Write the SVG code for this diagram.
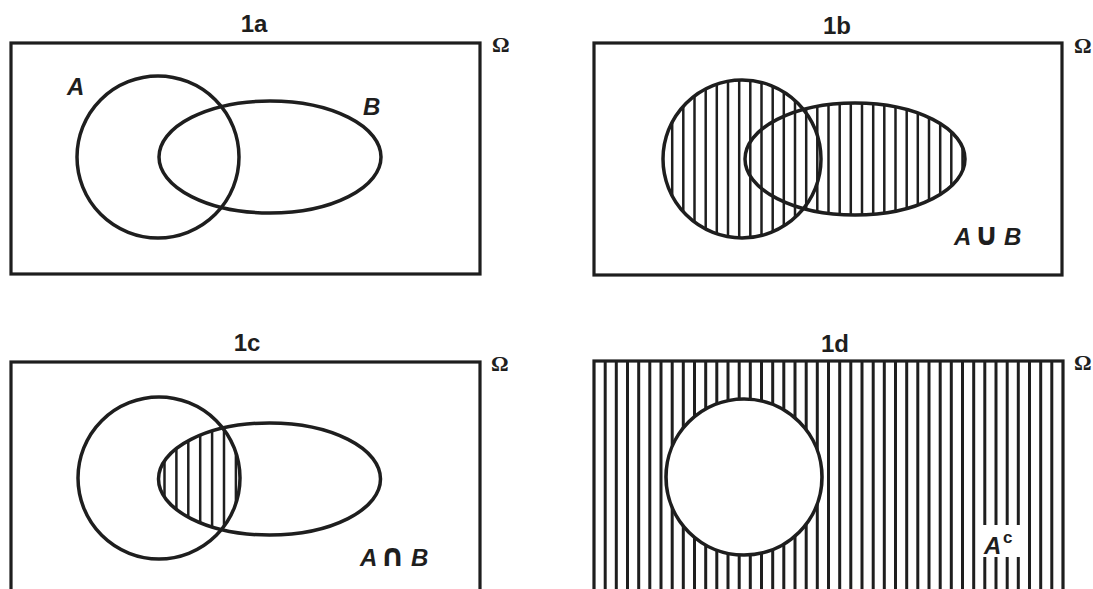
<svg xmlns="http://www.w3.org/2000/svg" width="1093" height="589" viewBox="0 0 1093 589">
<style>
.frame{fill:none;stroke:#1e1e1e;stroke-width:3.2}
.set{fill:none;stroke:#1e1e1e;stroke-width:3.5}
.hole{fill:#fff;stroke:#1e1e1e;stroke-width:3.6}
.hatch{fill:none;stroke:#1e1e1e;stroke-width:2.5}
.hatchd{fill:none;stroke:#1e1e1e;stroke-width:3}
.title{font-family:"Liberation Sans","DejaVu Sans",sans-serif;font-weight:bold;font-size:24px;fill:#1e1e1e;text-anchor:middle}
.omega{font-family:"Liberation Serif","DejaVu Serif",serif;font-weight:bold;font-size:22px;fill:#1e1e1e}
.lbl{font-family:"Liberation Sans","DejaVu Sans",sans-serif;font-weight:bold;font-style:italic;font-size:24px;fill:#1e1e1e}
.op{font-family:"DejaVu Sans","Liberation Sans",sans-serif;font-weight:bold;font-style:normal;font-size:31px}
.sup{font-style:normal;font-size:17px}
</style>
<defs>
<clipPath id="clipUnion">
<circle cx="742" cy="159" r="79"/>
<ellipse cx="855" cy="159" rx="110" ry="56"/>
</clipPath>
<clipPath id="clipA1c"><circle cx="159" cy="478" r="81"/></clipPath>
<clipPath id="clipB1c"><ellipse cx="269.5" cy="479" rx="111" ry="56"/></clipPath>
</defs>

<g id="panel-1a">
<text class="title" x="254" y="32">1a</text>
<rect class="frame" x="11" y="43" width="469" height="231"/>
<text class="omega" x="492" y="52">Ω</text>
<circle class="set" cx="158" cy="157" r="81"/>
<ellipse class="set" cx="270" cy="157" rx="111" ry="56"/>
<text class="lbl" x="67" y="95">A</text>
<text class="lbl" x="363" y="115">B</text>
</g>

<g id="panel-1b">
<text class="title" x="837" y="34">1b</text>
<rect class="frame" x="594" y="43" width="468" height="232"/>
<text class="omega" x="1074" y="53">Ω</text>
<path class="hatch" clip-path="url(#clipUnion)" d="M661 75V245M672.2 75V245M683.3 75V245M694.5 75V245M705.7 75V245M716.8 75V245M728 75V245M739.2 75V245M750.3 75V245M761.5 75V245M772.7 75V245M783.8 75V245M795 75V245M806.2 75V245M817.3 75V245M828.5 75V245M839.7 75V245M850.8 75V245M862 75V245M873.2 75V245M884.3 75V245M895.5 75V245M906.7 75V245M917.8 75V245M929 75V245M940.2 75V245M951.3 75V245M962.5 75V245"/>
<circle class="set" cx="742" cy="159" r="79"/>
<ellipse class="set" cx="855" cy="159" rx="110" ry="56"/>
<text class="lbl" y="245"><tspan x="954">A</tspan><tspan class="op" x="974">∪</tspan><tspan x="1004">B</tspan></text>
</g>

<g id="panel-1c">
<text class="title" x="247" y="351">1c</text>
<rect class="frame" x="11" y="362" width="469" height="240"/>
<text class="omega" x="491" y="371">Ω</text>
<g clip-path="url(#clipA1c)">
<path class="hatch" clip-path="url(#clipB1c)" d="M164.5 415V545M176.4 415V545M188.3 415V545M200.2 415V545M212.1 415V545M224 415V545M235.9 415V545"/>
</g>
<circle class="set" cx="159" cy="478" r="81"/>
<ellipse class="set" cx="269.5" cy="479" rx="111" ry="56"/>
<text class="lbl" y="566"><tspan x="360">A</tspan><tspan class="op" x="380">∩</tspan><tspan x="411">B</tspan></text>
</g>

<g id="panel-1d">
<text class="title" x="835" y="352">1d</text>
<path class="hatchd" d="M605.2 361V592M616.3 361V592M627.5 361V592M638.7 361V592M649.8 361V592M661 361V592M672.2 361V592M683.3 361V592M694.5 361V592M705.7 361V592M716.8 361V592M728 361V592M739.2 361V592M750.3 361V592M761.5 361V592M772.7 361V592M783.8 361V592M795 361V592M806.2 361V592M817.3 361V592M828.5 361V592M839.7 361V592M850.8 361V592M862 361V592M873.2 361V592M884.3 361V592M895.5 361V592M906.7 361V592M917.8 361V592M929 361V592M940.2 361V592M951.3 361V592M962.5 361V592M973.7 361V592M984.8 361V525M984.8 557V592M996 361V525M996 557V592M1007.2 361V525M1007.2 557V592M1018.3 361V525M1018.3 557V592M1029.5 361V592M1040.7 361V592M1051.8 361V592"/>
<rect class="frame" x="594" y="361" width="469" height="240"/>
<text class="omega" x="1074" y="370">Ω</text>
<circle class="hole" cx="744" cy="477" r="78"/>
<text class="lbl" x="984" y="554">A<tspan class="sup" x="1003" y="543">c</tspan></text>
</g>
</svg>
